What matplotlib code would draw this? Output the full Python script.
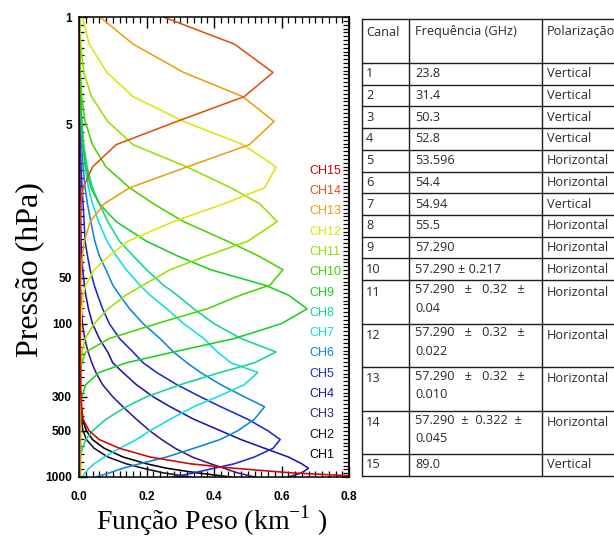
import numpy as np
import matplotlib
matplotlib.use("Agg")
import matplotlib.pyplot as plt
import matplotlib.transforms as mtransforms
from matplotlib.ticker import FixedLocator, FixedFormatter, NullFormatter
from matplotlib.lines import Line2D

# ---------------- data ----------------
pressure_hpa = [0.5, 1.0, 1.5, 2.3, 3.3, 4.8, 6.8, 9.5, 13, 16.5, 21.6, 29, 36, 44.5, 56, 65,
                80, 100, 125, 153, 180, 208, 250, 300, 348, 420, 500, 570, 650, 740, 820,
                877, 940, 1000]

ch1 = [0.0, 0.0, 0.0, 0.0, 0.0, 0.0, 0.0, 0.0, 0.001, 0.001, 0.001, 0.001, 0.001, 0.001, 0.001,
       0.001, 0.001, 0.002, 0.002, 0.002, 0.002, 0.002, 0.003, 0.004, 0.006, 0.010, 0.022, 0.040,
       0.075, 0.13, 0.20, 0.26, 0.35, 0.45]
ch2 = [0.0, 0.0, 0.0, 0.0, 0.0, 0.0, 0.0, 0.0, 0.0, 0.001, 0.001, 0.001, 0.001, 0.001, 0.001,
       0.001, 0.001, 0.002, 0.002, 0.002, 0.002, 0.002, 0.003, 0.003, 0.004, 0.006, 0.012, 0.022,
       0.045, 0.085, 0.14, 0.19, 0.25, 0.33]
ch3 = [0.0, 0.0, 0.0, 0.0, 0.0, 0.0, 0.001, 0.001, 0.001, 0.002, 0.002, 0.002, 0.002, 0.003, 0.004,
       0.005, 0.007, 0.010, 0.017, 0.027, 0.038, 0.05, 0.07, 0.10, 0.13, 0.17, 0.21, 0.245, 0.285,
       0.335, 0.39, 0.43, 0.47, 0.52]
ch4 = [0.0, 0.0, 0.0, 0.0, 0.001, 0.001, 0.002, 0.002, 0.003, 0.004, 0.005, 0.006, 0.008, 0.011,
       0.016, 0.02, 0.028, 0.04, 0.06, 0.085, 0.10, 0.13, 0.17, 0.22, 0.27, 0.34, 0.42, 0.48, 0.55,
       0.62, 0.66, 0.68, 0.66, 0.62]
ch5 = [0.0, 0.0, 0.0, 0.001, 0.002, 0.003, 0.004, 0.006, 0.009, 0.012, 0.015, 0.018, 0.025, 0.033,
       0.045, 0.055, 0.07, 0.09, 0.12, 0.16, 0.19, 0.23, 0.29, 0.36, 0.42, 0.50, 0.56, 0.596, 0.575,
       0.52, 0.46, 0.40, 0.34, 0.28]
ch6 = [0.0, 0.0, 0.001, 0.002, 0.003, 0.005, 0.008, 0.012, 0.018, 0.025, 0.035, 0.047, 0.06, 0.08,
       0.10, 0.12, 0.15, 0.19, 0.24, 0.28, 0.32, 0.36, 0.42, 0.49, 0.55, 0.52, 0.47, 0.418, 0.34,
       0.26, 0.18, 0.13, 0.09, 0.05]
ch7 = [0.0, 0.001, 0.002, 0.003, 0.004, 0.007, 0.011, 0.018, 0.028, 0.04, 0.058, 0.083, 0.11, 0.14,
       0.18, 0.21, 0.26, 0.31, 0.37, 0.41, 0.45, 0.53, 0.49, 0.41, 0.34, 0.27, 0.21, 0.17, 0.12,
       0.075, 0.045, 0.03, 0.018, 0.01]
ch8 = [0.0, 0.001, 0.002, 0.003, 0.005, 0.008, 0.014, 0.024, 0.04, 0.06, 0.085, 0.12, 0.16, 0.20,
       0.25, 0.29, 0.34, 0.40, 0.48, 0.584, 0.52, 0.418, 0.30, 0.20, 0.14, 0.08, 0.04, 0.02, 0.01,
       0.004, 0.003, 0.003, 0.003, 0.003]
ch9 = [0.0, 0.001, 0.002, 0.003, 0.005, 0.008, 0.012, 0.02, 0.035, 0.06, 0.11, 0.20, 0.29, 0.39,
       0.55, 0.62, 0.676, 0.60, 0.46, 0.28, 0.14, 0.06, 0.02, 0.008, 0.005, 0.004, 0.004, 0.004,
       0.004, 0.004, 0.004, 0.004, 0.004, 0.004]
ch10 = [0.0, 0.001, 0.002, 0.004, 0.008, 0.018, 0.04, 0.08, 0.15, 0.22, 0.31, 0.44, 0.53, 0.604,
        0.566, 0.48, 0.38, 0.23, 0.09, 0.02, 0.008, 0.005, 0.004, 0.004, 0.004, 0.004, 0.004,
        0.004, 0.004, 0.004, 0.004, 0.004, 0.004, 0.004]
ch11 = [0.001, 0.002, 0.005, 0.014, 0.037, 0.085, 0.16, 0.32, 0.45, 0.535, 0.587, 0.50, 0.38,
        0.27, 0.19, 0.14, 0.086, 0.045, 0.018, 0.009, 0.006, 0.005, 0.004, 0.004, 0.004, 0.004,
        0.004, 0.004, 0.004, 0.004, 0.004, 0.004, 0.004, 0.004]
ch12 = [0.002, 0.01, 0.03, 0.083, 0.16, 0.31, 0.486, 0.584, 0.55, 0.43, 0.28, 0.145, 0.09, 0.045,
        0.02, 0.012, 0.008, 0.006, 0.005, 0.004, 0.004, 0.004, 0.004, 0.004, 0.004, 0.004, 0.004,
        0.004, 0.004, 0.004, 0.004, 0.004, 0.004, 0.004]
ch13 = [0.01, 0.062, 0.16, 0.31, 0.485, 0.578, 0.505, 0.32, 0.15, 0.075, 0.033, 0.016, 0.01, 0.007,
        0.005, 0.004, 0.004, 0.003, 0.003, 0.003, 0.003, 0.003, 0.003, 0.003, 0.003, 0.003, 0.003,
        0.003, 0.003, 0.003, 0.003, 0.003, 0.003, 0.003]
ch14 = [0.08, 0.25, 0.46, 0.575, 0.49, 0.29, 0.11, 0.04, 0.012, 0.006, 0.004, 0.003, 0.003, 0.002,
        0.002, 0.002, 0.002, 0.002, 0.002, 0.002, 0.002, 0.002, 0.002, 0.002, 0.002, 0.002, 0.002,
        0.002, 0.002, 0.002, 0.002, 0.002, 0.002, 0.002]
ch15 = [0.0, 0.0, 0.001, 0.001, 0.001, 0.001, 0.002, 0.002, 0.002, 0.002, 0.002, 0.002, 0.002,
        0.002, 0.002, 0.003, 0.003, 0.003, 0.003, 0.004, 0.004, 0.005, 0.005, 0.006, 0.008, 0.012,
        0.03, 0.06, 0.12, 0.21, 0.33, 0.46, 0.63, 0.88]

channel_labels = ["CH1", "CH2", "CH3", "CH4", "CH5", "CH6", "CH7", "CH8", "CH9", "CH10",
                  "CH11", "CH12", "CH13", "CH14", "CH15"]
channel_weights = [ch1, ch2, ch3, ch4, ch5, ch6, ch7, ch8, ch9, ch10, ch11, ch12, ch13, ch14, ch15]
channel_colors = ["#000000", "#1c0c24", "#3a1a86", "#1616b0", "#1a2ad0", "#0a86dc", "#10dede",
                  "#10d690", "#18d020", "#48d400", "#98e000", "#e0e40a", "#e8a010", "#e05010",
                  "#d80000"]

x_ticks = [0.0, 0.2, 0.4, 0.6, 0.8]
x_tick_labels = ["0.0", "0.2", "0.4", "0.6", "0.8"]
y_ticks = [1, 5, 50, 100, 300, 500, 1000]
y_tick_labels = ["1", "5", "50", "100", "300", "500", "1000"]

table_header = ["Canal", "Frequência (GHz)", "Polarização"]
table_canal = ["1", "2", "3", "4", "5", "6", "7", "8", "9", "10", "11", "12", "13", "14", "15"]
table_freq = ["23.8", "31.4", "50.3", "52.8", "53.596", "54.4", "54.94", "55.5", "57.290",
              "57.290 \u00b1 0.217",
              "57.290   \u00b1   0.32   \u00b1\n0.04",
              "57.290   \u00b1   0.32   \u00b1\n0.022",
              "57.290   \u00b1   0.32   \u00b1\n0.010",
              "57.290  \u00b1  0.322  \u00b1\n0.045",
              "89.0"]
table_pol = ["Vertical", "Vertical", "Vertical", "Vertical", "Horizontal", "Horizontal",
             "Vertical", "Horizontal", "Horizontal", "Horizontal", "Horizontal", "Horizontal",
             "Horizontal", "Horizontal", "Vertical"]

# ---------------- figure ----------------
W, H = 614, 541
fig = plt.figure(figsize=(W / 100, H / 100), dpi=100)
plt.rcParams["mathtext.fontset"] = "custom"
plt.rcParams["mathtext.rm"] = "Liberation Serif"


def fx(px):
    return px / W


def fy(py):
    return 1 - py / H


ax = fig.add_axes([fx(79), fy(477), (349 - 79) / W, (477 - 17) / H])
for w, c in zip(channel_weights, channel_colors):
    ax.plot(w, pressure_hpa, color=c, lw=1.15, solid_joinstyle="miter")

ax.set_yscale("log")
ax.set_ylim(1000, 1)
ax.set_xlim(0, 0.8)

ax.xaxis.set_major_locator(FixedLocator(x_ticks))
ax.xaxis.set_major_formatter(FixedFormatter(x_tick_labels))
ax.xaxis.set_minor_locator(FixedLocator(np.arange(0, 0.8001, 0.02)))
ax.yaxis.set_major_locator(FixedLocator(y_ticks))
ax.yaxis.set_major_formatter(FixedFormatter(y_tick_labels))
ax.yaxis.set_minor_locator(FixedLocator(10 ** np.arange(0, 3.001, 0.05)))
ax.yaxis.set_minor_formatter(NullFormatter())

ax.tick_params(axis="x", which="major", direction="in", length=8, width=1, top=True,
               bottom=True, pad=10)
ax.tick_params(axis="x", which="minor", direction="in", length=4, width=0.9, top=True,
               bottom=True)
ax.tick_params(axis="y", which="major", direction="in", length=6, width=1, right=False, pad=5)
ax.tick_params(axis="y", which="minor", direction="in", length=3.5, width=0.9, right=False)
for lab in ax.get_xticklabels() + ax.get_yticklabels():
    lab.set_fontfamily("Liberation Sans")
    lab.set_fontweight("bold")
    lab.set_fontsize(8.6)
for s in ax.spines.values():
    s.set_linewidth(1.1)

sec = ax.secondary_yaxis("right")
sec.yaxis.set_major_locator(FixedLocator([]))
sec.yaxis.set_minor_locator(FixedLocator(10 ** np.arange(0, 3.001, 0.025)))
sec.yaxis.set_minor_formatter(NullFormatter())
sec.tick_params(which="minor", direction="in", length=4.5, width=0.9)
sec.spines["right"].set_linewidth(1.1)

# channel labels (legend-like)
blend = mtransforms.blended_transform_factory(ax.transData, ax.transAxes)
for i, (lab, c) in enumerate(zip(channel_labels, channel_colors)):
    ypx = 455 - i * 20.3
    ax.text(0.682, (477 - ypx) / 460, lab, color=c, fontsize=9, family="Liberation Sans",
            transform=blend, va="center", ha="left")

fig.text(fx(212), fy(521), "Função Peso (km$^{\\mathrm{-1}}$ )", family="Liberation Serif",
         fontsize=20, ha="center", va="center")
fig.text(fx(30), fy(270), "Pressão (hPa)", family="Liberation Serif", fontsize=23,
         rotation=90, ha="center", va="center")

# ---------------- table ----------------
col_x = [361.5, 408.5, 541.5, 700]
row_y = [19, 63, 84.7, 106.4, 128.1, 149.8, 171.5, 193.2, 214.9, 236.6, 258.3, 280, 323.5,
         367, 410.5, 454, 476]
line_kw = dict(color="#1e1e1e", lw=1.0)
for y in row_y:
    fig.add_artist(Line2D([fx(col_x[0]), fx(col_x[-1])], [fy(y), fy(y)], **line_kw))
for x in col_x[:3]:
    fig.add_artist(Line2D([fx(x), fx(x)], [fy(row_y[0]), fy(row_y[-1])], **line_kw))

tkw = dict(family="Open Sans", fontsize=9.2, color="#2b2b2b", va="center", ha="left",
           linespacing=1.55)
text_x = [366, 415, 547]
for tx, t in zip(text_x, table_header):
    fig.text(fx(tx), fy(32), t, **tkw)
for r in range(15):
    top, bot = row_y[r + 1], row_y[r + 2]
    two = (bot - top) > 30
    yc = top + 12 if two else (top + bot) / 2
    fig.text(fx(text_x[0]), fy(yc), table_canal[r], **tkw)
    if "\n" in table_freq[r]:
        fig.text(fx(text_x[1]), fy(top + 3), table_freq[r], **dict(tkw, va="top"))
    else:
        fig.text(fx(text_x[1]), fy(yc), table_freq[r], **tkw)
    fig.text(fx(text_x[2]), fy(yc), table_pol[r], **tkw)

fig.savefig("out.png", dpi=100)
